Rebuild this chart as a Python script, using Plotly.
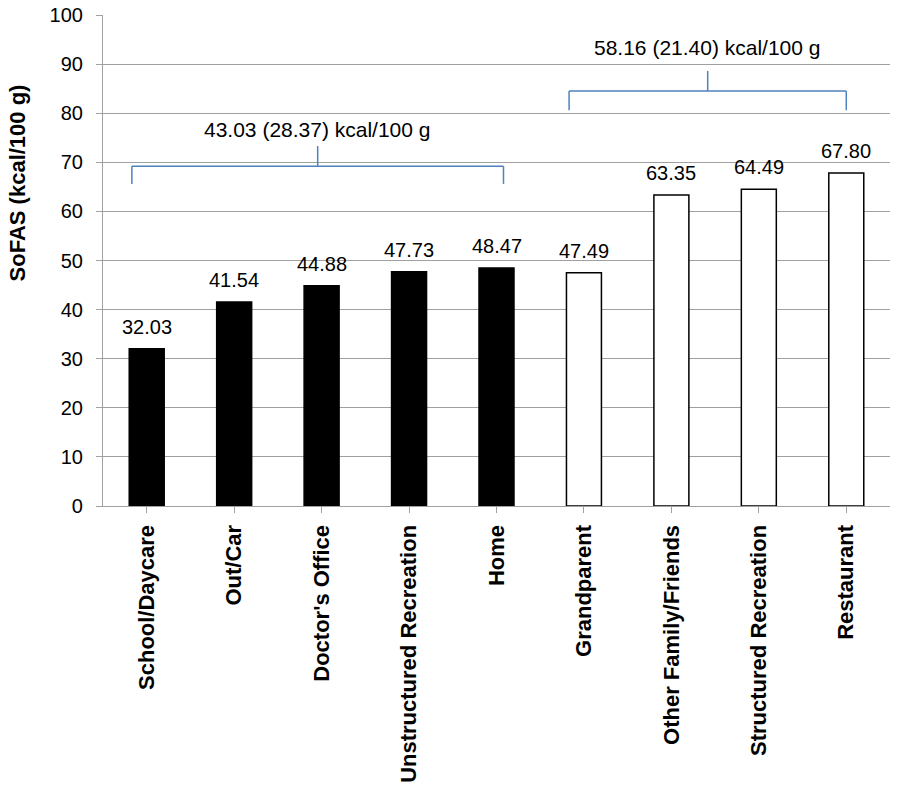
import plotly.graph_objects as go

categories = ["School/Daycare", "Out/Car", "Doctor's Office", "Unstructured Recreation", "Home",
              "Grandparent", "Other Family/Friends", "Structured Recreation", "Restaurant"]
values = [32.03, 41.54, 44.88, 47.73, 48.47, 47.49, 63.35, 64.49, 67.80]
group_a_label = "43.03 (28.37) kcal/100 g"
group_b_label = "58.16 (21.40) kcal/100 g"
y_ticks = [0, 10, 20, 30, 40, 50, 60, 70, 80, 90, 100]

fills = ["black"] * 5 + ["white"] * 4
font = "Liberation Sans, Arial, sans-serif"
blue = "#4F81BD"
FS = 20

fig = go.Figure()
xs = list(range(len(categories)))
fig.add_trace(go.Bar(
    x=xs, y=values, width=0.4,
    marker=dict(color=fills, line=dict(color="black", width=1.5)),
))
for x, v in zip(xs, values):
    fig.add_annotation(x=x, y=v, text=f"{v:.2f}", showarrow=False, yanchor="bottom",
                       yshift=9, font=dict(family=font, size=FS, color="black"))

def bracket(x0, x1, yb, ye, ys, yt, label):
    xc = (x0 + x1) / 2
    line = dict(color=blue, width=1.5)
    fig.add_shape(type="line", x0=x0, x1=x1, y0=yb, y1=yb, line=line)
    fig.add_shape(type="line", x0=x0, x1=x0, y0=yb, y1=ye, line=line)
    fig.add_shape(type="line", x0=x1, x1=x1, y0=yb, y1=ye, line=line)
    fig.add_shape(type="line", x0=xc, x1=xc, y0=yb, y1=ys, line=line)
    fig.add_annotation(x=xc, y=yt, text=label, showarrow=False,
                       font=dict(family=font, size=21, color="black"))

bracket(-0.17, 4.08, 69.2, 65.6, 73.3, 76.6, group_a_label)
bracket(4.83, 8.0, 84.5, 80.6, 88.6, 93.4, group_b_label)

# y-axis title
fig.add_annotation(xref="paper", yref="paper", x=0, y=0.657, xanchor="center", yanchor="middle",
                   xshift=-86, textangle=-90, showarrow=False,
                   text="<b>SoFAS (kcal/100 g)</b>", font=dict(family=font, size=22, color="black"))

fig.update_layout(
    width=897, height=797, margin=dict(l=103, r=7, t=15, b=291, autoexpand=False),
    plot_bgcolor="white", paper_bgcolor="white", showlegend=False,
)
fig.update_xaxes(
    range=[-0.5, 8.5], tickmode="array", tickvals=xs, ticktext=categories,
    tickangle=-90, tickfont=dict(family=font, size=22, color="black", weight="bold"),
    showgrid=False, showline=True, linecolor="#A0A0A0", linewidth=1.2,
    ticks="outside", ticklen=6, tickcolor="#A0A0A0", tickson="boundaries",
    automargin=False, ticklabelstandoff=3,
)
fig.update_yaxes(
    range=[0, 100], tickvals=y_ticks,
    tickfont=dict(family=font, size=FS, color="black"),
    showgrid=True, gridcolor="#A0A0A0", gridwidth=1.2,
    showline=True, linecolor="#A0A0A0", linewidth=1.2,
    ticks="outside", ticklen=6, tickcolor="#A0A0A0", zeroline=False, automargin=False,
    ticklabelstandoff=9,
)
fig.write_html("out.html", config={"displayModeBar": False},
               post_script="document.body.style.margin='0';document.body.style.overflow='hidden';")
